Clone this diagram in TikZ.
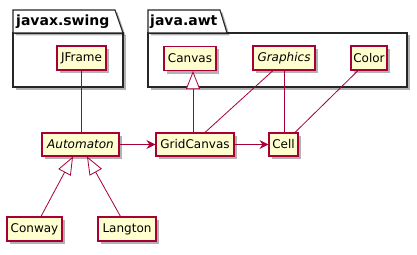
\documentclass[tikz,border=0pt]{standalone}
\usepackage{fontspec}
\setmainfont{DejaVu Sans}
\usetikzlibrary{arrows.meta,shadows}
\definecolor{umlred}{HTML}{A80036}
\definecolor{umlfill}{HTML}{FEFECE}
\begin{document}
\begin{tikzpicture}[x=1pt,y=-1pt,
  cls/.style={draw=umlred, fill=umlfill, line width=1.1pt, minimum height=24pt, inner sep=0pt,
    font=\fontsize{12}{14}\selectfont,
    drop shadow={shadow xshift=3pt, shadow yshift=-3pt, opacity=0.3, fill=black}},
  pkg/.style={draw=black!85, fill=white, line width=1.1pt,
    drop shadow={shadow xshift=2.5pt, shadow yshift=-2.5pt, opacity=0.3, fill=black}},
  pkglbl/.style={anchor=west, inner sep=0pt, font=\bfseries\fontsize{14}{16}\selectfont},
  assoc/.style={draw=umlred, line width=0.8pt},
  dep/.style={assoc, -{Stealth[length=9pt,width=9pt,inset=3pt]}},
  inh/.style={assoc, -{Triangle[open,length=18pt,width=14pt,fill=white]}}
]
\useasboundingbox (0,0) rectangle (417,254);
% packages
\path[pkg] (13,33) rectangle (123,87);
\path[pkg] (13,33) -- (13,10) -- (115,10) -- (123,33) -- cycle;
\node[pkglbl] (swing) at (16,21.5) {javax.swing};
\path[pkg] (148,33) rectangle (407,87);
\path[pkg] (148,33) -- (148,10) -- (220,10) -- (227,33) -- cycle;
\node[pkglbl] (awt) at (150,21.5) {java.awt};
% classes
\node[cls, minimum width=49pt] (JFrame) at (81.5,58) {JFrame};
\node[cls, minimum width=52pt] (Canvas) at (190,58.5) {Canvas};
\node[cls, minimum width=62pt] (Graphics) at (284,58) {\itshape Graphics};
\node[cls, minimum width=36pt] (Color) at (369,58) {Color};
\node[cls, minimum width=77pt, minimum height=23pt] (Automaton) at (80.5,144.5) {\itshape Automaton};
\node[cls, minimum width=78pt, minimum height=23pt] (GridCanvas) at (195,144.5) {GridCanvas};
\node[cls, minimum width=29pt, minimum height=23pt] (Cell) at (283.5,144.5) {Cell};
\node[cls, minimum width=55pt] (Conway) at (34.5,229) {Conway};
\node[cls, minimum width=58pt] (Langton) at (127,229) {Langton};
% connectors
\draw[assoc] (JFrame.south) -- (JFrame.south |- Automaton.north);
\draw[inh] ([xshift=-2pt]GridCanvas.north) -- ([xshift=3pt]Canvas.south);
\draw[assoc] ([xshift=-11pt]Graphics.south) -- ([xshift=10pt]GridCanvas.north);
\draw[assoc] (Graphics.south) -- (Graphics.south |- Cell.north);
\draw[assoc] ([xshift=-11pt]Color.south) -- ([xshift=11.5pt]Cell.north);
\draw[dep] (Automaton.east) -- (GridCanvas.west);
\draw[dep] (GridCanvas.east) -- (Cell.west);
\draw[inh] ([xshift=6.5pt]Conway.north) -- ([xshift=-7.5pt]Automaton.south);
\draw[inh] ([xshift=-6.5pt]Langton.north) -- ([xshift=6.5pt]Automaton.south);
\end{tikzpicture}
\end{document}
